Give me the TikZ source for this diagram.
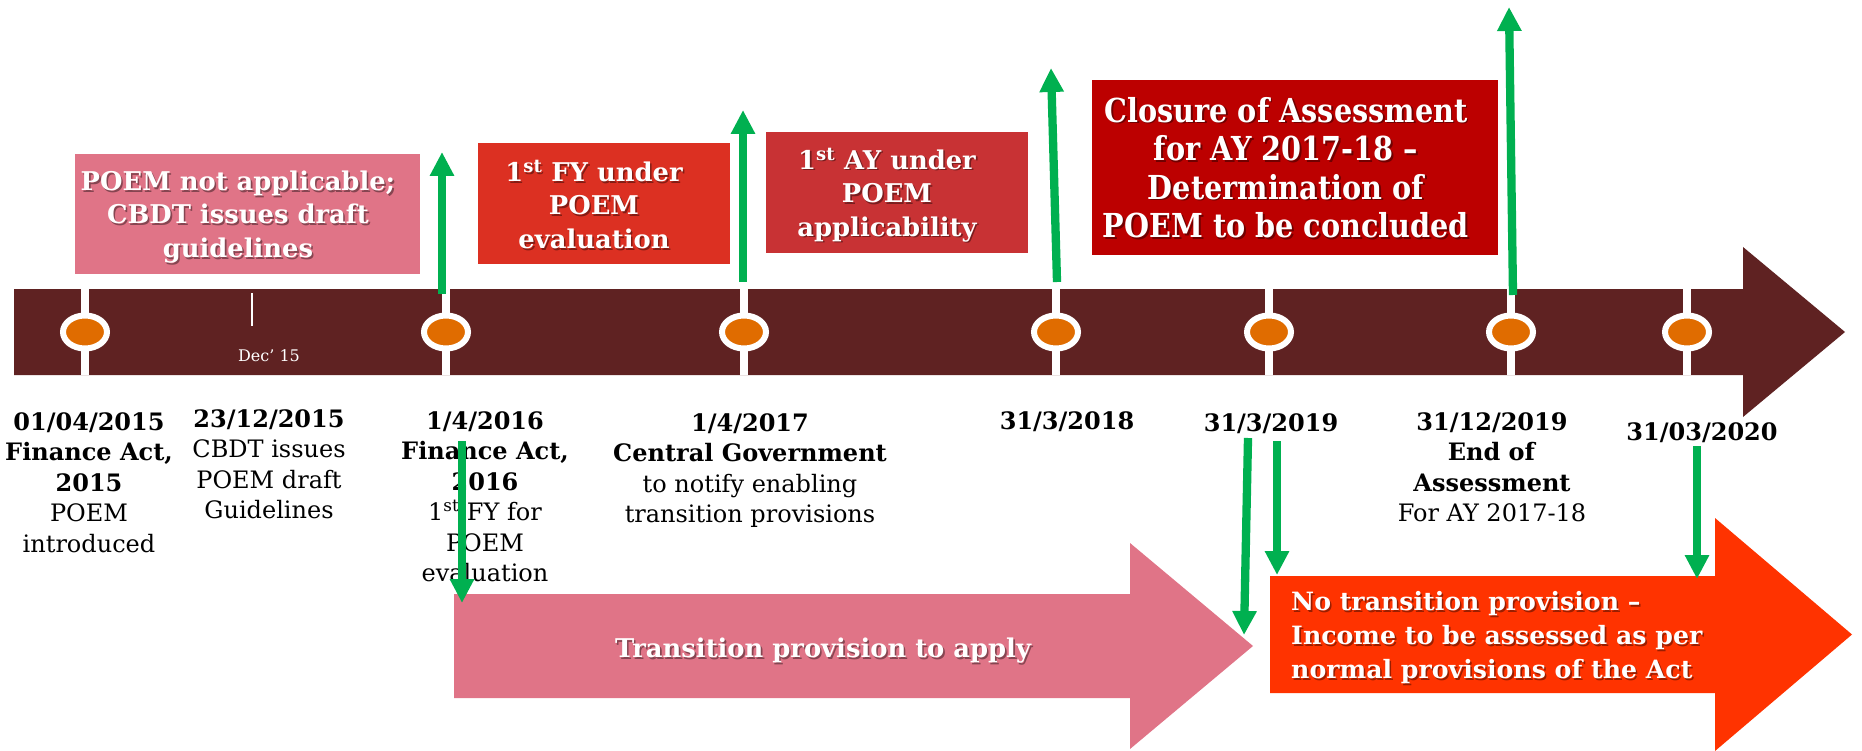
\documentclass[tikz,border=0pt]{standalone}
\usepackage{fontspec}
\setmainfont{DejaVu Serif}
\newfontfamily\narrowserif[FakeStretch=0.87]{DejaVu Serif}
\usetikzlibrary{arrows.meta,shapes.geometric}

\definecolor{barbrown}{RGB}{95,34,34}
\definecolor{dotorange}{RGB}{224,108,0}
\definecolor{rose}{RGB}{224,116,135}
\definecolor{flame}{RGB}{220,48,34}
\definecolor{brick}{RGB}{200,50,52}
\definecolor{crimson}{RGB}{188,0,0}
\definecolor{blaze}{RGB}{255,51,0}
\definecolor{arrowgreen}{RGB}{0,176,80}

% white text with a soft dark shadow behind it
\newcommand\shadedtext[4]{%
  \node[#3, text=black, opacity=0.4, xshift=1.6pt, yshift=-1.6pt] (#1-shade) at (#2) {#4};
  \node[#3, text=white] (#1) at (#2) {#4};}

\tikzset{
  milestone/.style={ellipse, fill=dotorange, draw=white, line width=6pt,
    minimum width=44pt, minimum height=33pt, inner sep=0pt},
  gap/.style={draw=white, line width=8pt},
  pointer/.style={draw=arrowgreen, line width=8.3pt,
    -{Triangle[width=23pt,length=24pt]}},
  panel/.style={anchor=north west, inner sep=0pt},
  paneltext/.style={align=center, inner sep=0pt,
    font=\bfseries\fontsize{25.8}{33.5}\selectfont},
  datelabel/.style={anchor=north, align=center, inner sep=0pt,
    font=\fontsize{24}{30.5}\selectfont},
}

\begin{document}
\begin{tikzpicture}[x=1pt,y=-1pt]
\useasboundingbox (0,0) rectangle (1862,751);

% ---- main timeline arrow ----
\fill[barbrown] (14,289) -- (1743,289) -- (1743,247) -- (1845,332)
  -- (1743,417) -- (1743,375) -- (14,375) -- cycle;

% ---- period arrows below ----
\fill[rose] (454,594) -- (1130,594) -- (1130,543) -- (1253,646)
  -- (1130,749) -- (1130,698) -- (454,698) -- cycle;
\fill[blaze] (1270,576) -- (1715,576) -- (1715,518) -- (1852,634.5)
  -- (1715,751) -- (1715,693) -- (1270,693) -- cycle;

% ---- separators and milestones on the timeline ----
\foreach \x/\n in {85/m1,446/m2,744/m3,1056/m4,1269/m5,1511/m6,1687/m7}{
  \draw[gap] (\x,289) -- (\x,375);
  \node[milestone] (\n) at (\x,332) {};
}
\draw[white, line width=1.8pt] (252,293) -- (252,326);
\node[text=white, inner sep=0pt, font=\fontsize{16}{18}\selectfont]
  (dec) at (269,355.5) {Dec’ 15};

% ---- boxes above the timeline ----
\node[panel, fill=rose, minimum width=345pt, minimum height=120pt] (box1) at (75,154) {};
\node[panel, fill=flame, minimum width=252pt, minimum height=121pt] (box2) at (478,143) {};
\node[panel, fill=brick, minimum width=262pt, minimum height=121pt] (box3) at (766,132) {};
\node[panel, fill=crimson, minimum width=406pt, minimum height=175pt] (box4) at (1092,80) {};

\shadedtext{t1}{238,217}{paneltext}{POEM not applicable;\\CBDT issues draft\\guidelines}
\shadedtext{t2}{594,204.5}{paneltext}{1\textsuperscript{st} FY under\\POEM\\evaluation}
\shadedtext{t3}{887,195}{paneltext}{1\textsuperscript{st} AY under\\POEM\\applicability}
\shadedtext{t4}{1286,167.5}{paneltext, font=\narrowserif\bfseries\fontsize{33}{38.5}\selectfont}%
  {Closure of Assessment\\for AY 2017-18 –\\Determination of\\POEM to be concluded}

% ---- text inside the period arrows ----
\shadedtext{t5}{823,650.6}{paneltext}{Transition provision to apply}
\shadedtext{t6}{1291,637.7}{paneltext, anchor=west, align=left,
  font=\bfseries\fontsize{25.2}{34}\selectfont}%
  {No transition provision –\\Income to be assessed as per\\normal provisions of the Act}

% ---- date labels ----
\node[datelabel] (l1) at (89,412) {\textbf{01/04/2015}\\\textbf{Finance Act,}\\\textbf{2015}\\POEM\\introduced};
\node[datelabel] (l2) at (269,409) {\textbf{23/12/2015}\\CBDT issues\\POEM draft\\Guidelines};
\node[datelabel] (l3) at (485,411) {\textbf{1/4/2016}\\\textbf{Finance Act,}\\\textbf{2016}\\1\textsuperscript{st} FY for\\POEM\\evaluation};
\node[datelabel] (l4) at (750,413) {\textbf{1/4/2017}\\\textbf{Central Government}\\to notify enabling\\transition provisions};
\node[datelabel] (l5) at (1067,411) {\textbf{31/3/2018}};
\node[datelabel] (l6) at (1271,413) {\textbf{31/3/2019}};
\node[datelabel] (l7) at (1492,412) {\textbf{31/12/2019}\\\textbf{End of}\\\textbf{Assessment}\\For AY 2017-18};
\node[datelabel] (l8) at (1702,422) {\textbf{31/03/2020}};

% ---- green pointers ----
\coordinate (u1a) at (442,294);  \coordinate (u1b) at (442,152);
\coordinate (u2a) at (743,282);  \coordinate (u2b) at (743,110);
\coordinate (u3a) at (1057,282); \coordinate (u3b) at (1051,68);
\coordinate (u4a) at (1513,295); \coordinate (u4b) at (1509,7);
\draw[pointer] (u1a) -- (u1b);
\draw[pointer] (u2a) -- (u2b);
\draw[pointer] (u3a) -- (u3b);
\draw[pointer] (u4a) -- (u4b);

\coordinate (d1a) at (462,441);  \coordinate (d1b) at (462,603);
\coordinate (d2a) at (1248,438); \coordinate (d2b) at (1244,635);
\coordinate (d3a) at (1277,441); \coordinate (d3b) at (1277,575);
\coordinate (d4a) at (1697,446); \coordinate (d4b) at (1697,579);
\draw[pointer] (d1a) -- (d1b);
\draw[pointer] (d2a) -- (d2b);
\draw[pointer] (d3a) -- (d3b);
\draw[pointer] (d4a) -- (d4b);
\end{tikzpicture}
\end{document}
